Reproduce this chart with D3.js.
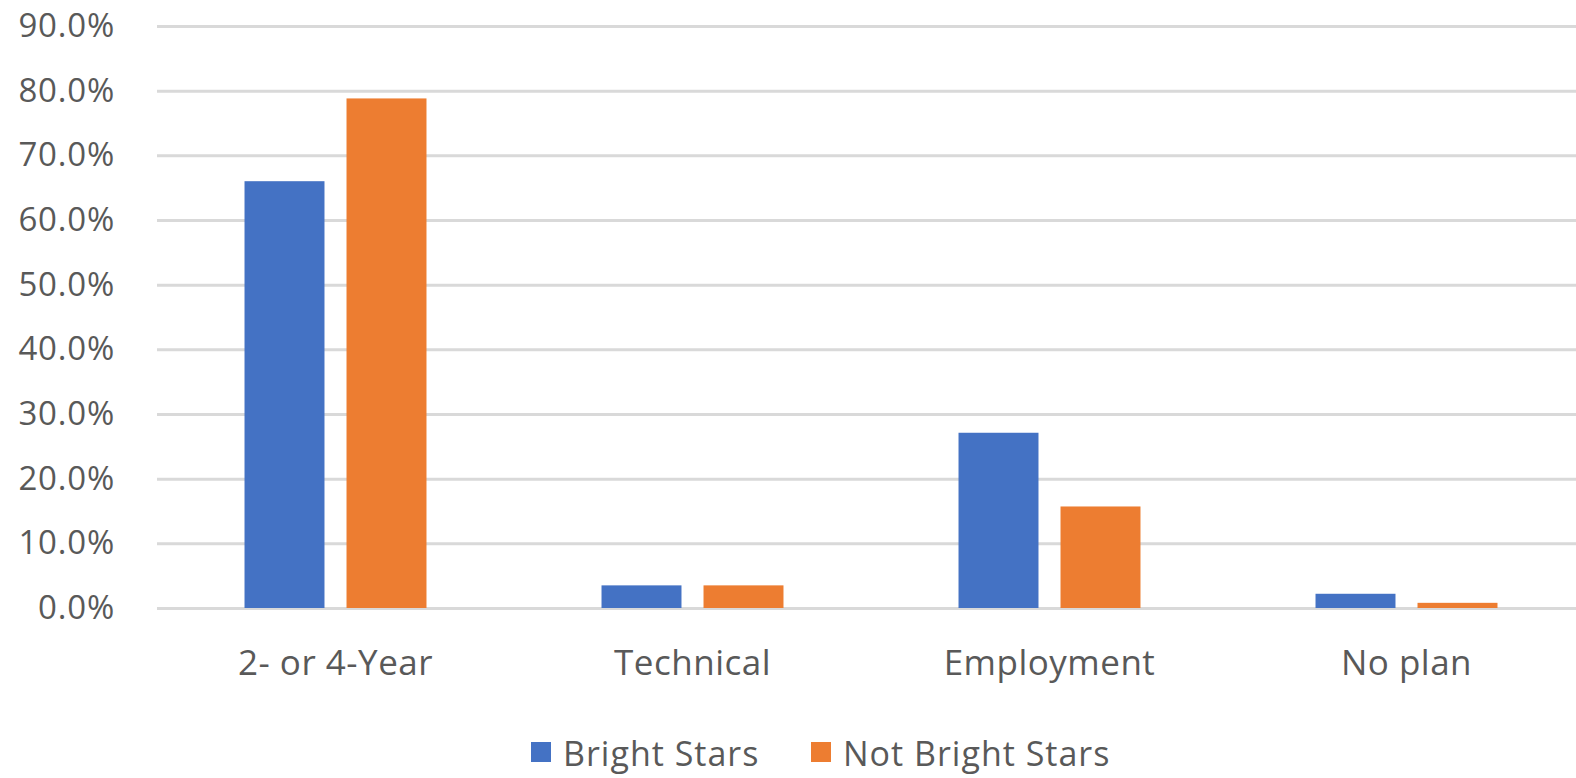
<!DOCTYPE html>
<html>
<head>
  <meta charset="utf-8">
  <title>Post-secondary plans: Bright Stars vs Not Bright Stars</title>
  <script src="https://d3js.org/d3.v7.min.js"></script>
  <style>
    body { margin: 0; background: #fff; }
    svg { display: block; overflow: hidden; }
  </style>
</head>
<body>
  <div id="chart"></div>

  <script>
    // data
    const categories = ["2- or 4-Year", "Technical", "Employment", "No plan"];
    const seriesNames = ["Bright Stars", "Not Bright Stars"];
    const brightStars = [0.660, 0.035, 0.271, 0.022];
    const notBrightStars = [0.788, 0.035, 0.157, 0.008];
    const yTicks = [0, 0.1, 0.2, 0.3, 0.4, 0.5, 0.6, 0.7, 0.8, 0.9];
    const colors = ["#4472C4", "#ED7D31"];

    const width = 1576, height = 778;
    const fontFamily = "'Open Sans', 'Noto Sans', sans-serif";

    const svg = d3.select("#chart").append("svg")
      .attr("width", width)
      .attr("height", height);

    const x0 = d3.scaleBand().domain(categories).range([157, 1585]);
    const x1 = d3.scaleBand().domain(seriesNames)
      .range([0, x0.bandwidth()])
      .paddingInner(0.216)
      .paddingOuter(0.858);
    const y = d3.scaleLinear().domain([0, 0.9]).range([608, 26]);
    const color = d3.scaleOrdinal().domain(seriesNames).range(colors);

    // gridlines + y labels
    const yAxis = svg.append("g")
      .attr("transform", "translate(157,0)")
      .call(d3.axisLeft(y).tickValues(yTicks).tickFormat(d3.format(".1%"))
        .tickSize(-(1585 - 157)).tickPadding(42));
    yAxis.select(".domain").remove();
    yAxis.selectAll(".tick line").attr("stroke", "#d9d9d9").attr("stroke-width", 3);
    yAxis.selectAll(".tick text")
      .attr("fill", "#595959")
      .attr("font-family", fontFamily)
      .attr("font-size", 33)
      .attr("letter-spacing", 0.8);

    // bars
    const rows = categories.map((c, i) => ({
      cat: c,
      values: [
        { name: seriesNames[0], v: brightStars[i] },
        { name: seriesNames[1], v: notBrightStars[i] }
      ]
    }));

    svg.append("g").selectAll("g")
      .data(rows)
      .join("g")
      .attr("transform", d => `translate(${x0(d.cat)},0)`)
      .selectAll("rect")
      .data(d => d.values)
      .join("rect")
      .attr("x", d => x1(d.name))
      .attr("y", d => y(d.v))
      .attr("width", x1.bandwidth())
      .attr("height", d => y(0) - y(d.v))
      .attr("fill", d => color(d.name));

    // x labels
    const xAxis = svg.append("g")
      .attr("transform", `translate(0,${y(0)})`)
      .call(d3.axisBottom(x0).tickSize(0).tickPadding(42));
    xAxis.select(".domain").remove();
    xAxis.selectAll(".tick text")
      .attr("fill", "#595959")
      .attr("font-family", fontFamily)
      .attr("font-size", 35)
      .attr("letter-spacing", 0.5);

    // legend
    const legend = svg.append("g").attr("transform", "translate(531,742)");
    const legendX = [0, 280];
    const items = legend.selectAll("g")
      .data(seriesNames)
      .join("g")
      .attr("transform", (d, i) => `translate(${legendX[i]},0)`);
    items.append("rect")
      .attr("width", 20).attr("height", 20)
      .attr("fill", d => color(d));
    items.append("text")
      .attr("x", 32).attr("y", 24)
      .attr("fill", "#595959")
      .attr("font-family", fontFamily)
      .attr("font-size", 34)
      .attr("letter-spacing", 1)
      .text(d => d);
  </script>
</body>
</html>
